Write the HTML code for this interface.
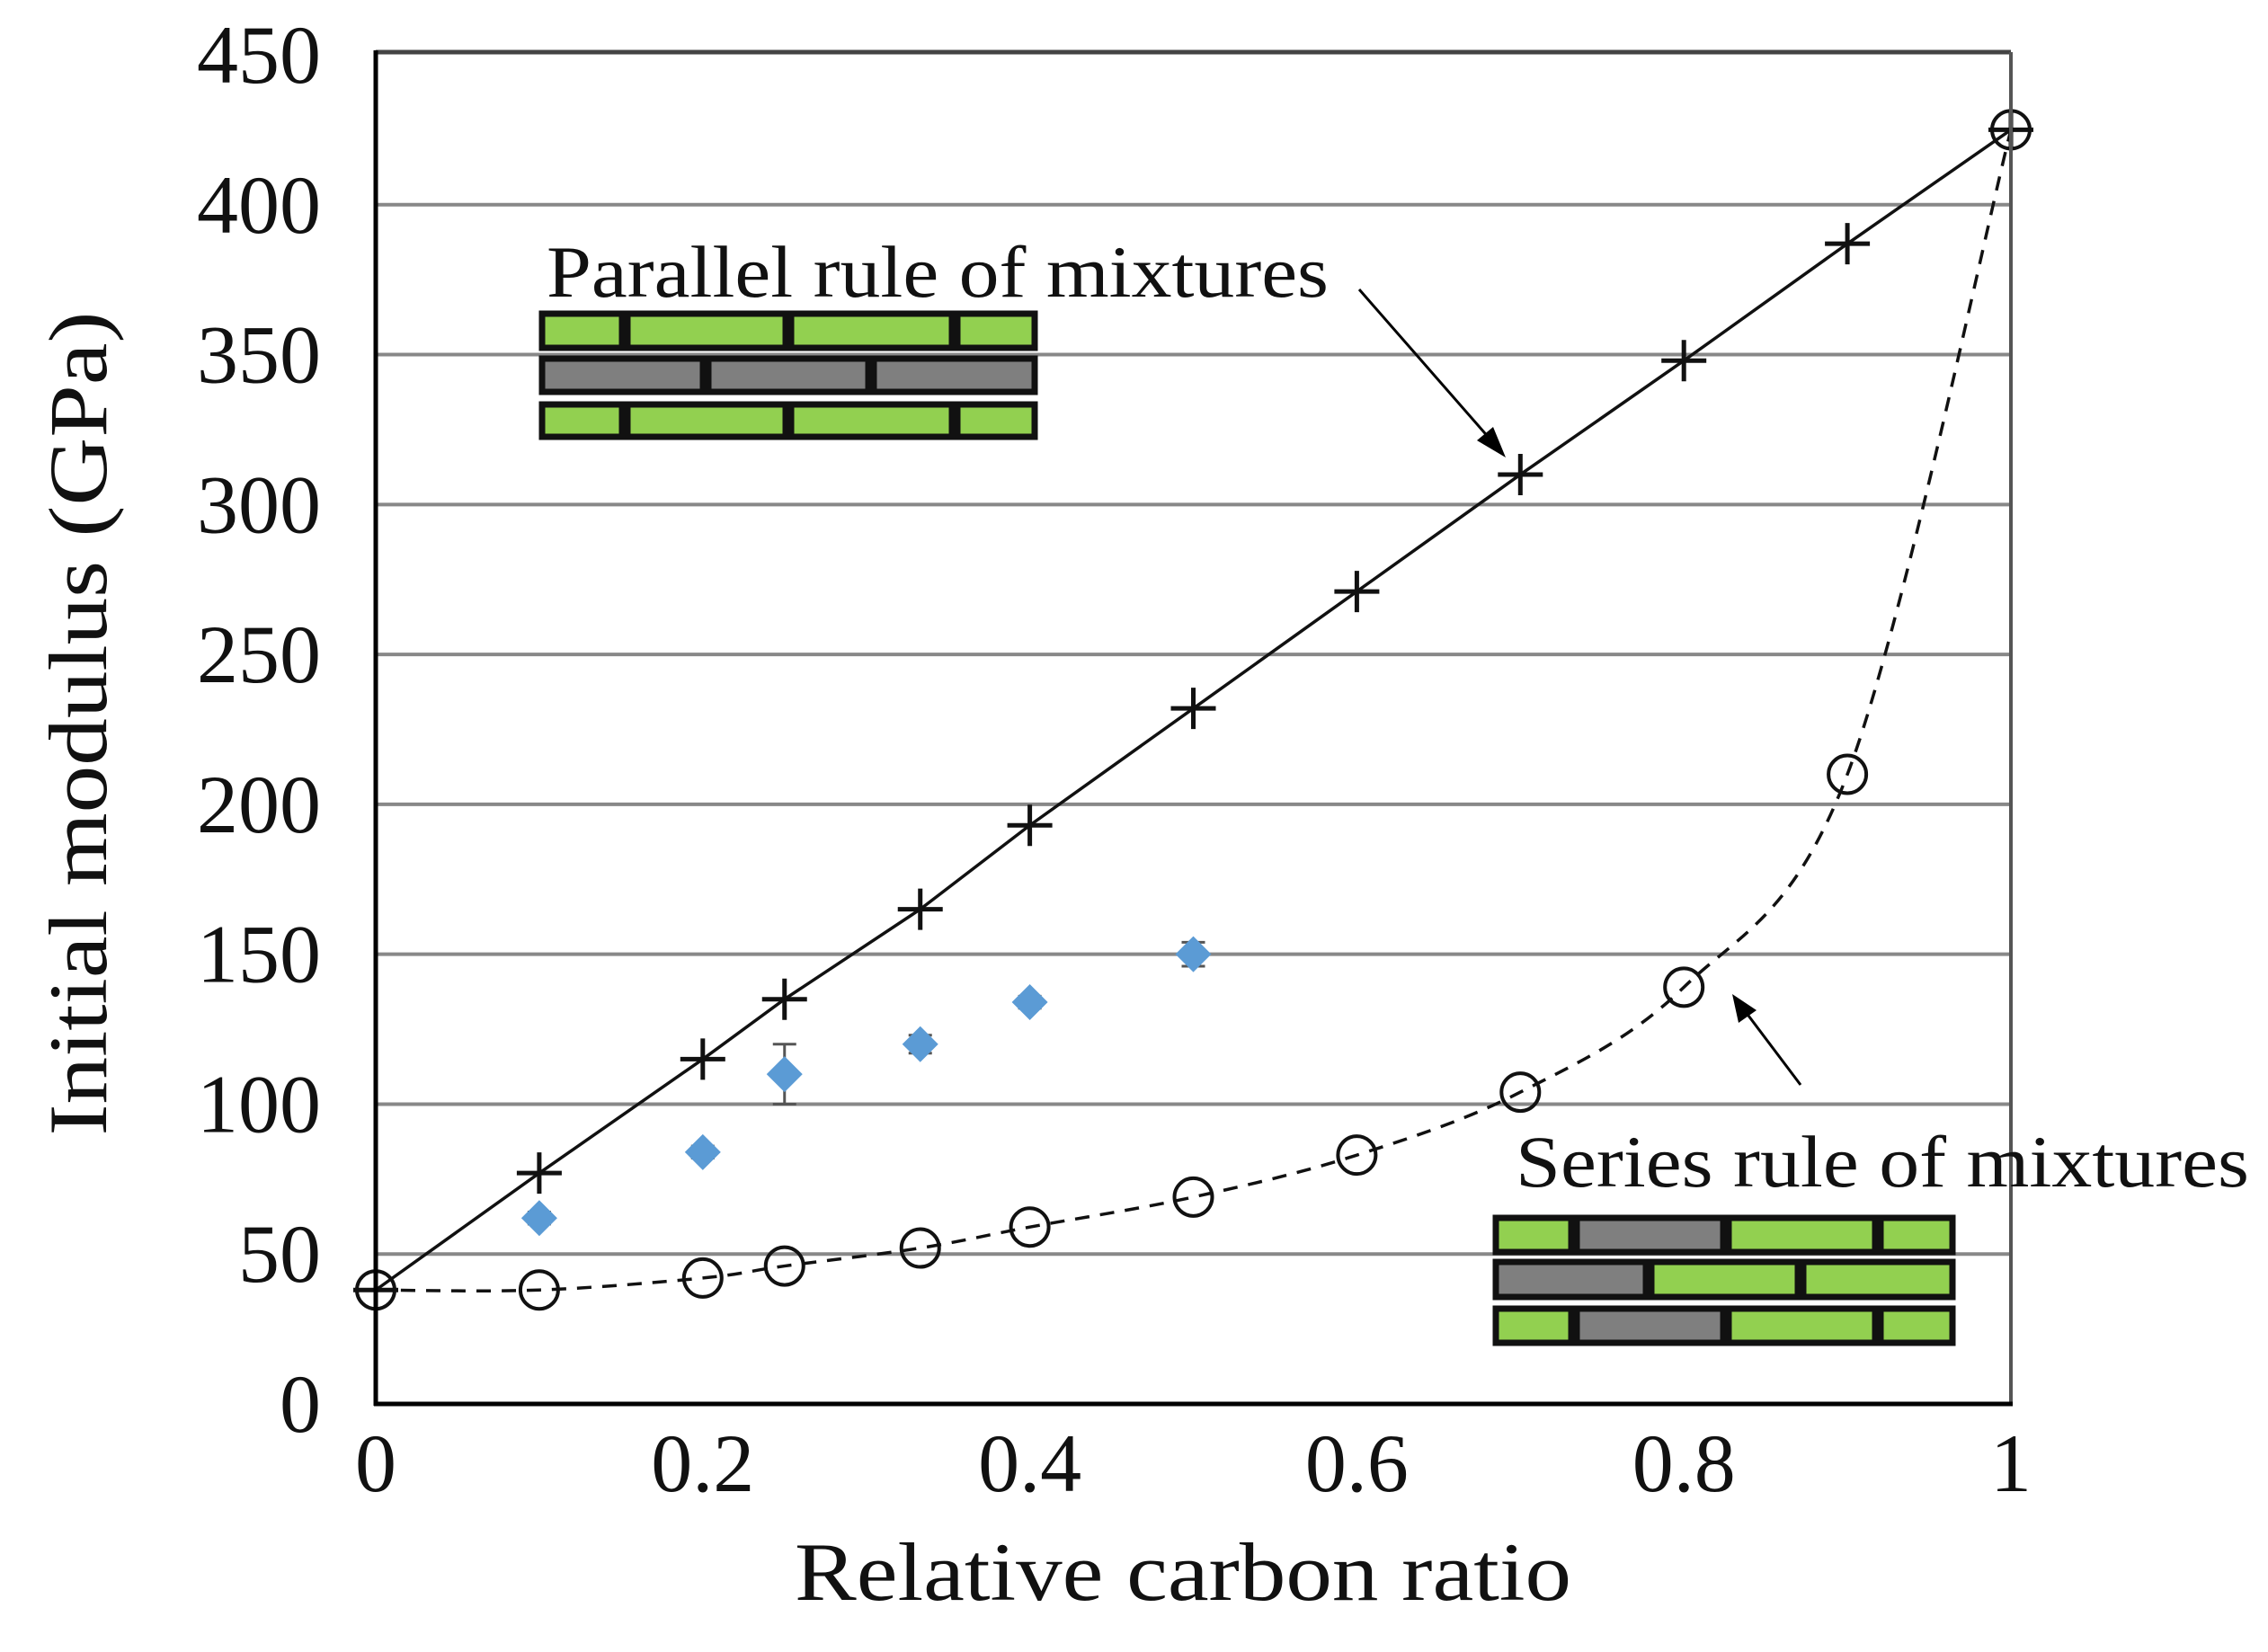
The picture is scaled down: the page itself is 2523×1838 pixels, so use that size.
<!DOCTYPE html>
<html><head><meta charset="utf-8"><style>
html,body{margin:0;padding:0;background:#fff;}
svg{display:block;}
text{font-family:"Liberation Serif",serif;fill:#111;}
</style></head><body>
<svg id="chart" width="2523" height="1838" viewBox="0 0 2523 1838" xmlns="http://www.w3.org/2000/svg">
<g id="grid"></g>
<g id="ylabels"></g>
<g id="xlabels"></g>
<g id="bricks"></g>
<g id="series"></g>
<line x1="418" y1="58" x2="2237" y2="58" stroke="#444" stroke-width="5"/>
<line x1="2237" y1="58" x2="2237" y2="1562" stroke="#555" stroke-width="4"/>
<line x1="418" y1="56" x2="418" y2="1564" stroke="#000" stroke-width="5"/>
<line x1="416" y1="1562" x2="2239" y2="1562" stroke="#000" stroke-width="5"/>
<text x="1316" y="1780" font-size="92" text-anchor="middle" textLength="864" lengthAdjust="spacingAndGlyphs">Relative carbon ratio</text>
<text transform="translate(118,805) rotate(-90)" font-size="92" text-anchor="middle" textLength="917" lengthAdjust="spacingAndGlyphs">Initial modulus (GPa)</text>
<text x="608" y="330" font-size="82" textLength="870" lengthAdjust="spacingAndGlyphs">Parallel rule of mixtures</text>
<text x="1686" y="1320" font-size="82" textLength="816" lengthAdjust="spacingAndGlyphs">Series rule of mixtures</text>
<g><line x1="1512" y1="322" x2="1665" y2="497" stroke="#000" stroke-width="3"/><polygon points="1675,509 1643,490 1661,475" fill="#000"/></g>
<g><line x1="2003" y1="1207" x2="1936" y2="1118" stroke="#000" stroke-width="3"/><polygon points="1927,1106 1954,1124 1934,1138" fill="#000"/></g>
</svg>
<script>
const xTicks = [0, 0.2, 0.4, 0.6, 0.8, 1];
const xTickLabels = ["0", "0.2", "0.4", "0.6", "0.8", "1"];
const yTicks = [0, 50, 100, 150, 200, 250, 300, 350, 400, 450];
const yTickLabels = ["0", "50", "100", "150", "200", "250", "300", "350", "400", "450"];
const ratios = [0, 0.1, 0.2, 0.25, 0.333, 0.4, 0.5, 0.6, 0.7, 0.8, 0.9, 1];
const parallelValues = [38, 77, 115, 135, 165, 193, 232, 271, 310, 348, 387, 425];
const seriesValues = [38, 38, 42, 46, 52, 59, 69, 83, 104, 139, 210, 425];
const expRatios = [0.1, 0.2, 0.25, 0.333, 0.4, 0.5];
const expValues = [62, 84, 110, 120, 134, 150];
const expErrors = [2, 2, 10, 3, 2, 4];

const NS = "http://www.w3.org/2000/svg";
const X0 = 418, X1 = 2237, Y0 = 1562, Y1 = 61;
const sx = v => X0 + v * (X1 - X0);
const sy = v => Y0 - v / 450 * (Y0 - Y1);
function mk(tag, attrs, parent) {
  const e = document.createElementNS(NS, tag);
  for (const k in attrs) e.setAttribute(k, attrs[k]);
  parent.appendChild(e);
  return e;
}
const grid = document.getElementById('grid');
const yl = document.getElementById('ylabels');
const xl = document.getElementById('xlabels');
const ser = document.getElementById('series');
const bricks = document.getElementById('bricks');

yTicks.forEach((v, i) => {
  if (v > 0 && v < 450) {
    const g = mk('line', {x1: X0, x2: X1, y1: sy(v), y2: sy(v), stroke: '#888', 'stroke-width': 4}, grid);
    
    
  }
  const t = mk('text', {x: 357, y: sy(v) + 31, 'font-size': 92, 'text-anchor': 'end'}, yl);
  t.textContent = yTickLabels[i];
  
  
});
xTicks.forEach((v, i) => {
  const t = mk('text', {x: sx(v), y: 1659, 'font-size': 92, 'text-anchor': 'middle'}, xl);
  t.textContent = xTickLabels[i];
  
  
});

function brickRow(segs, y, h, name) {
  segs.forEach((s, i) => {
    const r = mk('rect', {x: s[0] + 3, y: y + 3, width: s[1] - s[0] - 6, height: h - 6,
      fill: s[2] ? '#92d050' : '#7f7f7f', stroke: '#111', 'stroke-width': 7}, bricks);
    
    
  });
}
brickRow([[600,695,1],[695,877,1],[877,1062,1],[1062,1154,1]], 346, 44, 'parallel-row1');
brickRow([[600,785,0],[785,969,0],[969,1154,0]], 396, 43, 'parallel-row2');
brickRow([[600,695,1],[695,877,1],[877,1062,1],[1062,1154,1]], 447, 42, 'parallel-row3');
brickRow([[1661,1751,1],[1751,1920,0],[1920,2089,1],[2089,2175,1]], 1352, 44, 'series-row1');
brickRow([[1661,1834,0],[1834,2003,1],[2003,2175,1]], 1401, 45, 'series-row2');
brickRow([[1661,1751,1],[1751,1920,0],[1920,2089,1],[2089,2175,1]], 1453, 44, 'series-row3');

const pp = ratios.map((r, i) => sx(r) + ',' + sy(parallelValues[i])).join(' ');
const pl = mk('polyline', {points: pp, fill: 'none', stroke: '#111', 'stroke-width': 3.5}, ser);



const pts = ratios.map((r, i) => [sx(r), sy(seriesValues[i])]);
let d = 'M' + pts[0][0] + ',' + pts[0][1];
for (let i = 0; i < pts.length - 1; i++) {
  const p0 = pts[Math.max(0, i - 1)], p1 = pts[i], p2 = pts[i + 1], p3 = pts[Math.min(pts.length - 1, i + 2)];
  const c1x = p1[0] + (p2[0] - p0[0]) / 6, c1y = p1[1] + (p2[1] - p0[1]) / 6;
  const c2x = p2[0] - (p3[0] - p1[0]) / 6, c2y = p2[1] - (p3[1] - p1[1]) / 6;
  d += ' C' + c1x + ',' + c1y + ' ' + c2x + ',' + c2y + ' ' + p2[0] + ',' + p2[1];
}
const sl = mk('path', {d: d, fill: 'none', stroke: '#111', 'stroke-width': 3.5, 'stroke-dasharray': '16,12'}, ser);



ratios.forEach((r, i) => {
  const c = mk('circle', {cx: sx(r), cy: sy(seriesValues[i]), r: 21, fill: 'none', stroke: '#111', 'stroke-width': 4}, ser);
  
  
});
ratios.forEach((r, i) => {
  const x = sx(r), y = sy(parallelValues[i]);
  const g = mk('path', {d: 'M' + (x - 25) + ',' + y + 'H' + (x + 25) + 'M' + x + ',' + (y - 23) + 'V' + (y + 23), stroke: '#111', 'stroke-width': 5, fill: 'none'}, ser);
  
  
});
expRatios.forEach((r, i) => {
  const x = sx(r), y = sy(expValues[i]);
  const e = expErrors[i];
  const eb = mk('path', {d: 'M' + x + ',' + sy(expValues[i] + e) + 'V' + sy(expValues[i] - e) + 'M' + (x - 13) + ',' + sy(expValues[i] + e) + 'H' + (x + 13) + 'M' + (x - 13) + ',' + sy(expValues[i] - e) + 'H' + (x + 13), stroke: '#555', 'stroke-width': 3, fill: 'none'}, ser);
  
  
  const p = mk('polygon', {points: x + ',' + (y - 20) + ' ' + (x + 20) + ',' + y + ' ' + x + ',' + (y + 20) + ' ' + (x - 20) + ',' + y, fill: '#5b9bd5'}, ser);
  
  
});
</script>
</body></html>
